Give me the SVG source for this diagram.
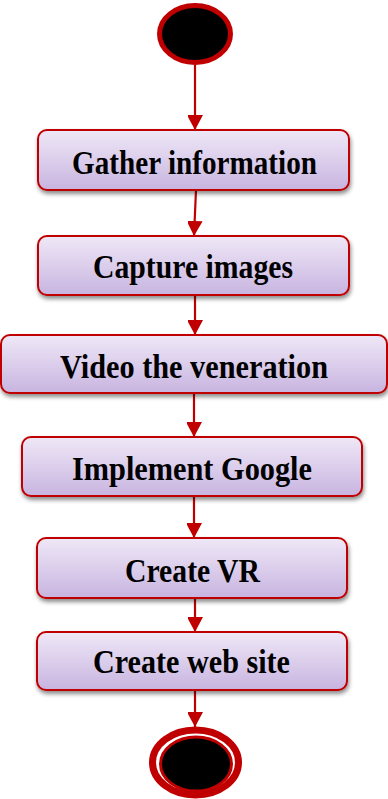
<svg xmlns="http://www.w3.org/2000/svg" width="388" height="799" viewBox="0 0 388 799">
  <style>
    .box { fill: url(#boxFill); stroke: #c00000; stroke-width: 2; filter: url(#shadow); }
    .label { font-family: "Liberation Serif", "Times New Roman", serif; font-weight: bold; font-size: 33px; fill: #000; }
    .edge { stroke: #c00000; stroke-width: 2.2; fill: none; marker-end: url(#arrow); }
  </style>
  <defs>
    <linearGradient id="boxFill" x1="0" y1="0" x2="0" y2="1">
      <stop offset="0" stop-color="#efe8f7"/>
      <stop offset="1" stop-color="#c8b4e0"/>
    </linearGradient>
    <filter id="shadow" x="-10%" y="-20%" width="120%" height="150%">
      <feDropShadow dx="1" dy="3" stdDeviation="2" flood-color="#000" flood-opacity="0.45"/>
    </filter>
    <marker id="arrow" markerUnits="userSpaceOnUse" markerWidth="16" markerHeight="15" refX="15" refY="8" orient="auto">
      <path d="M0,0 L15,8 L0,16 Z" fill="#c00000"/>
    </marker>
  </defs>

  <!-- connectors -->
  <g id="connectors">
    <line class="edge" x1="195" y1="65" x2="195" y2="130"/>
    <line class="edge" x1="196" y1="190" x2="194" y2="236"/>
    <line class="edge" x1="195" y1="295" x2="195" y2="335"/>
    <line class="edge" x1="194" y1="393" x2="194" y2="437"/>
    <line class="edge" x1="194" y1="496" x2="194" y2="538"/>
    <line class="edge" x1="195" y1="598" x2="195" y2="632"/>
    <line class="edge" x1="195" y1="690" x2="195" y2="727"/>
  </g>

  <!-- initial node -->
  <g id="start">
    <ellipse cx="195" cy="34" rx="35.5" ry="28.5" fill="#000" stroke="#c00000" stroke-width="5"/>
  </g>

  <g id="gather">
    <rect class="box" x="38" y="130" width="311" height="60" rx="9"/>
    <text class="label" x="72" y="174" textLength="245" lengthAdjust="spacingAndGlyphs">Gather information</text>
  </g>

  <g id="capture">
    <rect class="box" x="38" y="236" width="311" height="59" rx="9"/>
    <text class="label" x="93" y="278" textLength="200" lengthAdjust="spacingAndGlyphs">Capture images</text>
  </g>

  <g id="video">
    <rect class="box" x="1" y="335" width="386" height="58" rx="9"/>
    <text class="label" x="60" y="378" textLength="268" lengthAdjust="spacingAndGlyphs">Video the veneration</text>
  </g>

  <g id="implement">
    <rect class="box" x="22" y="437" width="340" height="59" rx="9"/>
    <text class="label" x="72" y="480" textLength="240" lengthAdjust="spacingAndGlyphs">Implement Google</text>
  </g>

  <g id="createvr">
    <rect class="box" x="37" y="538" width="310" height="60" rx="9"/>
    <text class="label" x="125" y="582" textLength="135" lengthAdjust="spacingAndGlyphs">Create VR</text>
  </g>

  <g id="website">
    <rect class="box" x="37" y="632" width="310" height="58" rx="9"/>
    <text class="label" x="93" y="673" textLength="197" lengthAdjust="spacingAndGlyphs">Create web site</text>
  </g>

  <!-- final node -->
  <g id="end">
    <ellipse cx="195.5" cy="762.5" rx="43" ry="32.5" fill="#fff" stroke="#c00000" stroke-width="7"/>
    <ellipse cx="196" cy="764" rx="35.5" ry="27" fill="#000" stroke="#c00000" stroke-width="3"/>
  </g>
</svg>
